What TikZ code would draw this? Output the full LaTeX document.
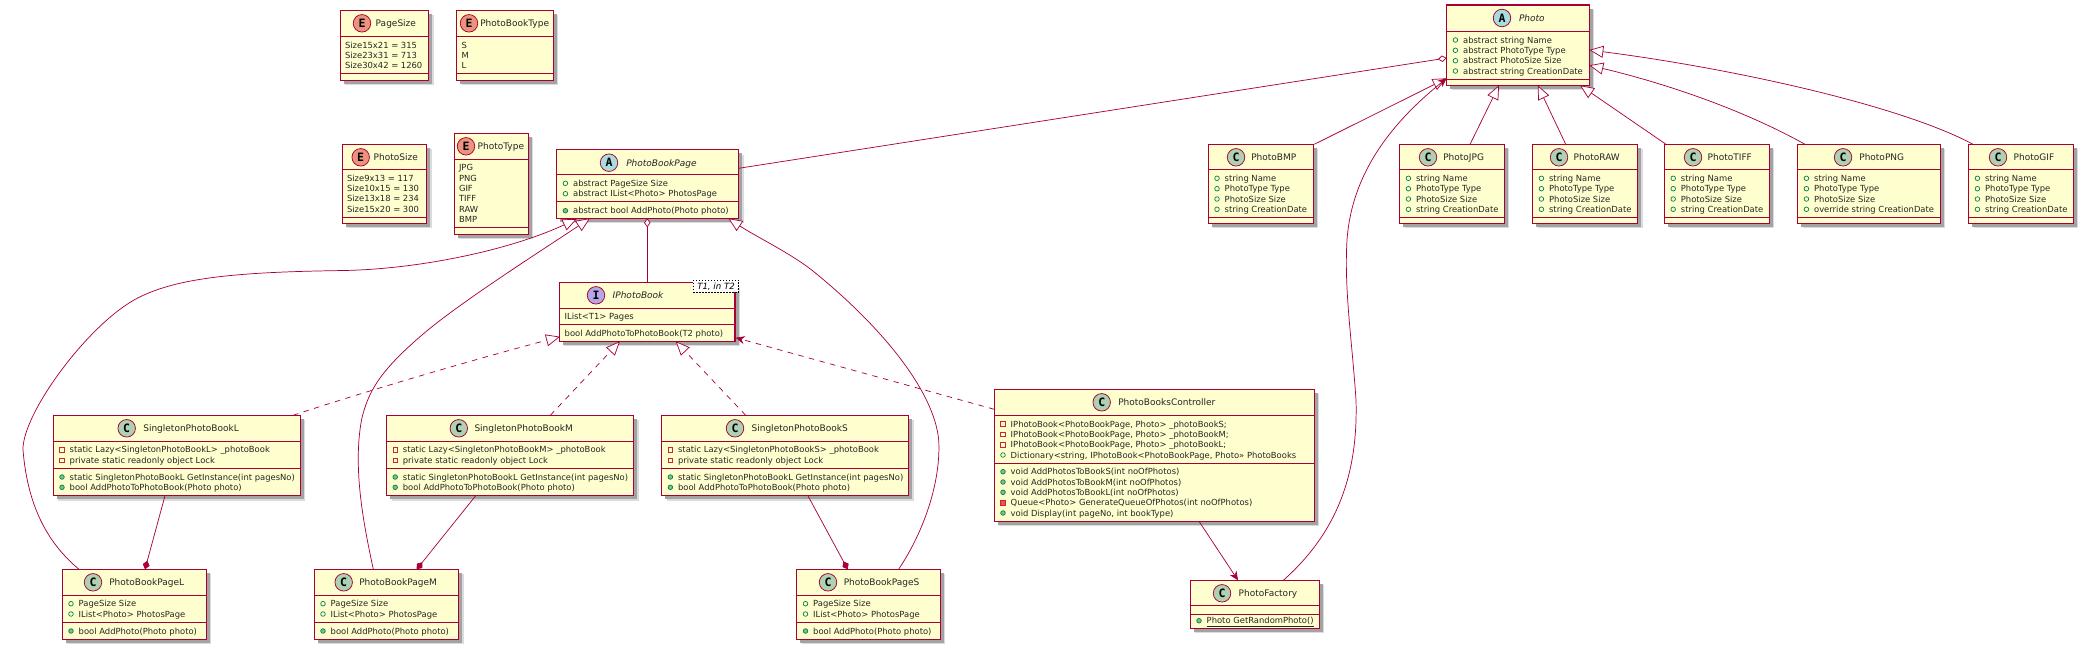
\documentclass[tikz,border=0pt]{standalone}
\usepackage{fontspec}
\setmainfont{DejaVu Sans}
\newfontfamily\letterfont{DejaVu Sans Mono}
\usetikzlibrary{arrows.meta,calc,shadows}
\definecolor{bd}{HTML}{A80036}
\definecolor{ylw}{HTML}{FEFECE}
\definecolor{cC}{HTML}{ADD1B2}
\definecolor{cE}{HTML}{EB937F}
\definecolor{cA}{HTML}{A9DCDF}
\definecolor{cI}{HTML}{B4A7E5}
\definecolor{pubS}{HTML}{038048}
\definecolor{pubF}{HTML}{84BE84}
\definecolor{priS}{HTML}{C82930}
\definecolor{priF}{HTML}{F24D5C}
\newcounter{txtno}
\newcommand{\bodyfont}{\fontsize{8.4}{10}\selectfont}
\newcommand{\titlefont}{\fontsize{9}{11}\selectfont}
\tikzset{
  clsbox/.style={draw=bd,fill=ylw,line width=1.05pt,inner sep=0pt,outer sep=0pt,
    general shadow={fill=black!14,shadow xshift=5pt,shadow yshift=-5pt},
    general shadow={fill=black!36,shadow xshift=3.6pt,shadow yshift=-3.6pt}},
  seprule/.style={draw=bd,line width=1pt},
  badge/.style={circle,draw=bd,line width=.75pt,minimum size=17.5pt,inner sep=0pt,text=black,font=\letterfont\bfseries\fontsize{11.5}{12}\selectfont},
  txt/.style={anchor=base west,inner sep=0pt,outer sep=0pt,text=black!85!white,font=\bodyfont},
  ttl/.style={anchor=base west,inner sep=0pt,outer sep=0pt,text=black!85!white,font=\titlefont},
  link/.style={draw=bd,line width=.72pt},
  ext/.style={link,-{Triangle[fill=white,length=14pt,width=12pt,line width=.72pt]}},
  real/.style={link,dash pattern=on 5.5pt off 5.5pt,-{Triangle[fill=white,length=14pt,width=12pt,line width=.72pt,sep=0pt]}},
  uses/.style={link,-{Stealth[length=9pt,width=8pt,inset=3pt,fill=bd]}},
  usesd/.style={uses,dash pattern=on 5.5pt off 5.5pt},
  agg/.style={link,-{Diamond[fill=white,length=9pt,width=6.5pt,line width=.72pt]}},
  comp/.style={link,-{Diamond[fill=bd,length=9pt,width=7pt]}}
}
% name, x0,y0,x1,y1, header line y, separator y, letter, colour, badge x, title x, title
\newcommand{\cls}[9]{%
  \pgfmathsetmacro{\cw}{#4-#2}\pgfmathsetmacro{\chh}{#5-#3}%
  \pgfmathsetmacro{\cxx}{(#4+#2)/2}\pgfmathsetmacro{\cyy}{(#5+#3)/2}%
  \node[clsbox,minimum width=\cw pt,minimum height=\chh pt] (#1) at (\cxx,\cyy) {};
  \draw[seprule] (#2,#6) -- (#4,#6);
  \draw[seprule] (#2,#7) -- (#4,#7);
  \def\topy{#3}\def\bname{#1}\clstail{#8}{#9}}
\newcommand{\clstail}[5]{% letter, colour, badge x, title x, title
  \pgfmathsetmacro{\by}{\topy+13}\pgfmathsetmacro{\ty}{\topy+16.3}%
  \node[badge,fill=#2] (\bname-badge) at (#3,\by) {#1};
  \node[ttl] (\bname-title) at (#4,\ty) {#5};}
\newcommand{\tx}[3]{% x, centre y, text
  \stepcounter{txtno}\pgfmathsetmacro{\ry}{#2+3.1}%
  \node[txt] (t\thetxtno) at (#1,\ry) {#3};}
% box left, y, text
\newcommand{\mPF}[3]{\pgfmathsetmacro{\ix}{#1+8.7}\draw[pubS,line width=.7pt] (\ix,#2) circle (2.3pt);\pgfmathsetmacro{\tix}{#1+16.4}\tx{\tix}{#2}{#3}}
\newcommand{\mPM}[3]{\pgfmathsetmacro{\ix}{#1+8.7}\draw[pubS,fill=pubF,line width=.7pt] (\ix,#2) circle (2.3pt);\pgfmathsetmacro{\tix}{#1+16.4}\tx{\tix}{#2}{#3}}
\newcommand{\mRF}[3]{\pgfmathsetmacro{\ix}{#1+8.7}\draw[priS,line width=.7pt] (\ix-2.3,#2-2.3) rectangle (\ix+2.3,#2+2.3);\pgfmathsetmacro{\tix}{#1+16.4}\tx{\tix}{#2}{#3}}
\newcommand{\mRM}[3]{\pgfmathsetmacro{\ix}{#1+8.7}\draw[priS,fill=priF,line width=.7pt] (\ix-2.3,#2-2.3) rectangle (\ix+2.3,#2+2.3);\pgfmathsetmacro{\tix}{#1+16.4}\tx{\tix}{#2}{#3}}
\newcommand{\photorows}[2]{% left, date text
  \mPF{#1}{178.3}{string Name}\mPF{#1}{188.7}{PhotoType Type}\mPF{#1}{199}{PhotoSize Size}\mPF{#1}{209.3}{#2}}
\newcommand{\pagerows}[1]{%
  \mPF{#1}{603.7}{PageSize Size}\mPF{#1}{614}{IList<Photo> PhotosPage}\mPM{#1}{631}{bool AddPhoto(Photo photo)}}
\newcommand{\singrows}[2]{%
  \mRF{#1}{449.7}{static Lazy<SingletonPhotoBook#2> \_photoBook}\mRF{#1}{460.3}{private static readonly object Lock}
  \mPM{#1}{477}{static SingletonPhotoBookL GetInstance(int pagesNo)}\mPM{#1}{487.3}{bool AddPhotoToPhotoBook(Photo photo)}}
\begin{document}
\begin{tikzpicture}[x=1pt,y=-1pt]
\useasboundingbox (0,0) rectangle (2084,649);
% enums
\cls{pageSize}{340.3}{10.3}{428.7}{80.3}{36.3}{73.3}{E}{cE}{362}{375.7}{PageSize}
\tx{345}{45}{Size15x21 = 315}\tx{345}{55.3}{Size23x31 = 713}\tx{345}{65.7}{Size30x42 = 1260}
\cls{photoBookType}{456.7}{10.3}{553.3}{80.3}{36.3}{73.3}{E}{cE}{469}{480.3}{PhotoBookType}
\tx{461.5}{45}{S}\tx{461.5}{55.3}{M}\tx{461.5}{65.7}{L}
\cls{photoSize}{342.3}{144.3}{426.7}{223.3}{169.3}{217.3}{E}{cE}{360.7}{373.7}{PhotoSize}
\tx{347}{178}{Size9x13 = 117}\tx{347}{188.3}{Size10x15 = 130}\tx{347}{198.7}{Size13x18 = 234}\tx{347}{209}{Size15x20 = 300}
\cls{photoType}{454.3}{133.3}{528.3}{234.3}{159.3}{227.3}{E}{cE}{466}{477.7}{PhotoType}
\tx{459}{167.7}{JPG}\tx{459}{178}{PNG}\tx{459}{188.3}{GIF}\tx{459}{198.7}{TIFF}\tx{459}{209}{RAW}\tx{459}{219.3}{BMP}
% abstract
\cls{bookPage}{556.7}{149.7}{738.7}{218.3}{174.3}{201.3}{A}{cA}{609}{626.3}{\itshape PhotoBookPage}
\mPF{556.7}{183.3}{abstract PageSize Size}\mPF{556.7}{193.7}{abstract IList<Photo> PhotosPage}\mPM{556.7}{210.7}{abstract bool AddPhoto(Photo photo)}
\cls{iBook}{559.3}{282.3}{735}{341.3}{308.3}{324.3}{I}{cI}{596}{612.7}{\itshape IPhotoBook}
\tx{564.7}{316.7}{IList<T1> Pages}\tx{564.7}{333.3}{bool AddPhotoToPhotoBook(T2 photo)}
\node[draw=black,dash pattern=on 1.5pt off 1.5pt,line width=.6pt,fill=white,minimum width=45.4pt,minimum height=12pt,inner sep=0pt,font=\fontsize{8.6}{10}\selectfont\itshape] (tmpl) at (716,286.3) {T1, in T2};
\cls{photo}{1446.7}{5}{1589.3}{85.3}{31.3}{79.3}{A}{cA}{1502}{1519}{\itshape Photo}
\mPF{1446.7}{40}{abstract string Name}\mPF{1446.7}{50.3}{abstract PhotoType Type}\mPF{1446.7}{60.7}{abstract PhotoSize Size}\mPF{1446.7}{71}{abstract string CreationDate}
% photos
\cls{bmp}{1208.3}{144.3}{1313.3}{223.3}{169}{217.3}{C}{cC}{1236}{1251.3}{PhotoBMP}
\photorows{1208.3}{string CreationDate}
\cls{jpg}{1399.7}{144.3}{1504.3}{223.3}{169}{217.3}{C}{cC}{1428}{1443.3}{PhotoJPG}
\photorows{1399.7}{string CreationDate}
\cls{raw}{1532.7}{144.3}{1637.5}{223.3}{169}{217.3}{C}{cC}{1559}{1573.7}{PhotoRAW}
\photorows{1532.7}{string CreationDate}
\cls{tiff}{1664.5}{144.3}{1769.3}{223.3}{169}{217.3}{C}{cC}{1693}{1707.7}{PhotoTIFF}
\photorows{1664.5}{string CreationDate}
\cls{png}{1797.7}{144.3}{1940.3}{223.3}{169}{217.3}{C}{cC}{1843}{1859.3}{PhotoPNG}
\photorows{1797.7}{override string CreationDate}
\cls{gif}{1968.7}{144.3}{2073.3}{223.3}{169}{217.3}{C}{cC}{1998}{2013.7}{PhotoGIF}
\photorows{1968.7}{string CreationDate}
% singletons
\cls{singL}{53.3}{415.3}{300.3}{495.7}{441.3}{468.7}{C}{cC}{126.7}{143.3}{SingletonPhotoBookL}
\singrows{53.3}{L}
\cls{singM}{386.5}{415.3}{633.7}{495.7}{441.3}{468.7}{C}{cC}{458.8}{474.5}{SingletonPhotoBookM}
\singrows{386.5}{M}
\cls{singS}{661.7}{415.3}{908.5}{495.7}{441.3}{468.7}{C}{cC}{735}{751.6}{SingletonPhotoBookS}
\singrows{661.7}{S}
% pages
\cls{pageL}{62.3}{569.3}{206.3}{639.3}{595.3}{622.3}{C}{cC}{93}{109.3}{PhotoBookPageL}
\pagerows{62.3}
\cls{pageM}{314.3}{569.3}{458.5}{639.3}{595.3}{622.3}{C}{cC}{343.7}{359.3}{PhotoBookPageM}
\pagerows{314.3}
\cls{pageS}{796.8}{569.3}{940.3}{639.3}{595.3}{622.3}{C}{cC}{828}{843.8}{PhotoBookPageS}
\pagerows{796.8}
% controller
\cls{ctrl}{994.3}{389.3}{1314.3}{521.3}{415.3}{463.3}{C}{cC}{1101.7}{1118.3}{PhotoBooksController}
\mRF{994.3}{424}{IPhotoBook<PhotoBookPage, Photo> \_photoBookS;}
\mRF{994.3}{434.3}{IPhotoBook<PhotoBookPage, Photo> \_photoBookM;}
\mRF{994.3}{444.7}{IPhotoBook<PhotoBookPage, Photo> \_photoBookL;}
\mPF{994.3}{455}{Dictionary<string, IPhotoBook<PhotoBookPage, Photo>> PhotoBooks}
\mPM{994.3}{471.7}{void AddPhotosToBookS(int noOfPhotos)}
\mPM{994.3}{482}{void AddPhotosToBookM(int noOfPhotos)}
\mPM{994.3}{492.3}{void AddPhotosToBookL(int noOfPhotos)}
\mRM{994.3}{502.7}{Queue<Photo> GenerateQueueOfPhotos(int noOfPhotos)}
\mPM{994.3}{513}{void Display(int pageNo, int bookType)}
\cls{factory}{1190.3}{580.3}{1319.3}{628.3}{605.3}{614.7}{C}{cC}{1222}{1238.7}{PhotoFactory}
\mPM{1190.3}{620.7}{\underline{Photo GetRandomPhoto()}}
% connectors: photo hierarchy
\draw[agg] ($(bookPage.north east)+(0,18.6)$) -- ($(photo.north west)+(0,53)$);
\draw[ext] ($(bmp.north east)+(1,0)$) -- ($(photo.north west)+(0,73.3)$);
\draw[ext] ($(jpg.north west)+(70.3,0)$) -- ($(photo.south west)+(52.3,0)$);
\draw[ext] ($(raw.north west)+(33,0)$) -- ($(photo.south west)+(91,0)$);
\draw[ext] ($(tiff.north west)+(1.5,0)$) -- ($(photo.south east)+(-9.3,0)$);
\draw[ext] ($(png.north west)+(7.3,0)$) .. controls (1740,108) and (1660,82) .. ($(photo.north east)+(0,60.3)$);
\draw[ext] ($(gif.north west)+(4.3,0)$) .. controls (1900,105) and (1730,68) .. ($(photo.north east)+(0,45)$);
\draw[uses] ($(factory.north west)+(93,0)$) .. controls (1340,530) and (1358,470) .. (1356,400) .. controls (1352,340) and (1344,290) .. (1347,240) .. controls (1352,170) and (1395,120) .. ($(photo.north west)+(0,73.3)$);
\draw[uses] ($(ctrl.south west)+(204.7,0)$) -- ($(factory.north west)+(47.7,0)$);
% book pages
\draw[ext] ($(pageL.north west)+(16.7,0)$) .. controls (50,545) and (28,510) .. (23,450) .. controls (22,415) and (85,328) .. (134,300) .. controls (175,277) and (240,272) .. (344,270.5) .. controls (420,269) and (510,250) .. ($(bookPage.south west)+(20,0.7)$);
\draw[ext] ($(pageM.north west)+(59,0)$) .. controls (365,530) and (352,470) .. (361.7,419) .. controls (368,393) and (378,373) .. (420,336.7) .. controls (455,306) and (530,258) .. ($(bookPage.south west)+(33.3,0)$);
\draw[ext] ($(pageS.north west)+(101.8,0)$) .. controls (925,530) and (941,480) .. (938.7,440) .. controls (934,390) and (880,325) .. (811.7,270) .. controls (790,253) and (755,236) .. ($(bookPage.south east)+(-10.4,0)$);
\draw[agg] ($(iBook.north west)+(88,0)$) -- ($(bookPage.south west)+(90.6,0)$);
% realisations
\draw[real] ($(singL.north west)+(239.7,0)$) .. controls (345,398) and (450,366) .. ($(iBook.south west)+(0.7,-4.6)$);
\draw[real] ($(singM.north west)+(163.8,0)$) -- ($(iBook.south west)+(60.7,0)$);
\draw[real] ($(singS.north west)+(84,0)$) -- ($(iBook.south west)+(116.4,0)$);
\draw[usesd] ($(ctrl.north west)+(0,20)$) -- ($(iBook.south east)+(0.7,-3.6)$);
% compositions
\draw[comp] ($(singL.south west)+(111.7,0)$) -- ($(pageL.north west)+(82.7,0)$);
\draw[comp] ($(singM.south west)+(89.2,0)$) -- ($(pageM.north west)+(102.4,0)$);
\draw[comp] ($(singS.south west)+(146.2,0)$) -- ($(pageS.north west)+(50.9,0)$);
\end{tikzpicture}
\end{document}
